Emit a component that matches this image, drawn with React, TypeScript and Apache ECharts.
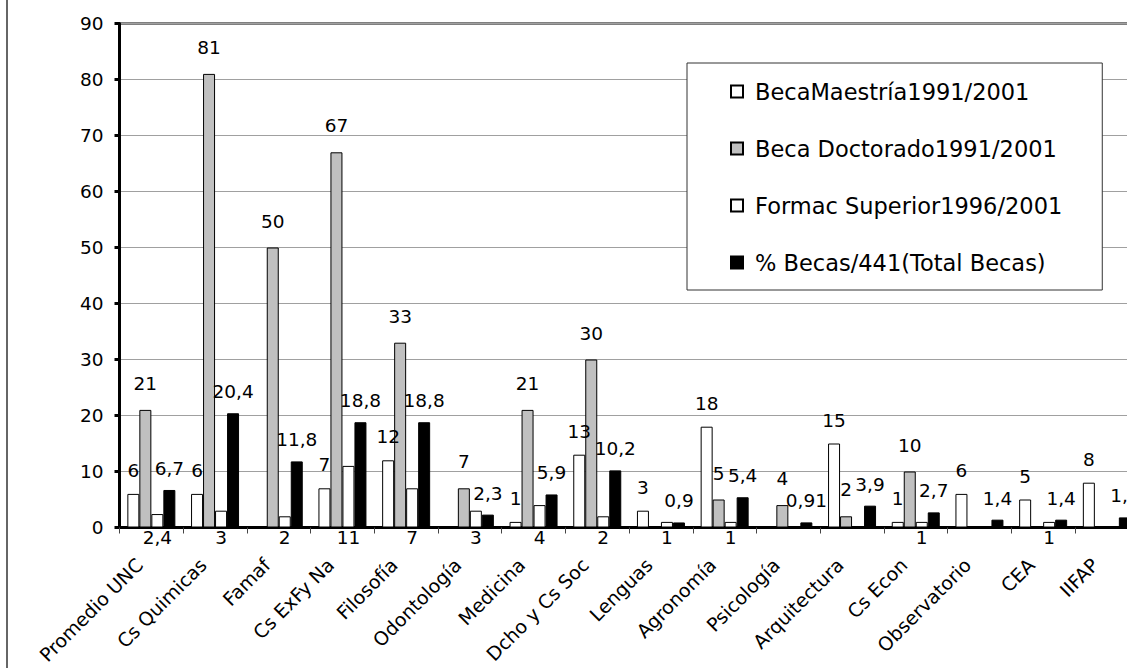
import React, { useEffect, useRef } from "react";
import * as echarts from "echarts";

const categories = [
  "Promedio UNC",
  "Cs Quimicas",
  "Famaf",
  "Cs ExFy Na",
  "Filosofía",
  "Odontología",
  "Medicina",
  "Dcho y Cs Soc",
  "Lenguas",
  "Agronomía",
  "Psicología",
  "Arquitectura",
  "Cs Econ",
  "Observatorio",
  "CEA",
  "IIFAP",
];

const seriesNames = [
  "BecaMaestría1991/2001",
  "Beca Doctorado1991/2001",
  "Formac Superior1996/2001",
  "% Becas/441(Total Becas)",
];

const becaMaestria = [6, 6, null, 7, 12, null, 1, 13, 3, 18, null, 15, 1, 6, 5, 8];
const becaDoctorado = [21, 81, 50, 67, 33, 7, 21, 30, null, 5, 4, 2, 10, null, null, null];
const formacSuperior = [2.4, 3, 2, 11, 7, 3, 4, 2, 1, 1, null, null, 1, null, 1, null];
const pctBecas = [6.7, 20.4, 11.8, 18.8, 18.8, 2.3, 5.9, 10.2, 0.9, 5.4, 0.91, 3.9, 2.7, 1.4, 1.4, 1.8];

const yMin = 0;
const yMax = 90;
const yInterval = 10;

const FONT = "DejaVu Sans";

const fmt = (p: any) => String(p.value).replace(".", ",");

export default function App() {
  const ref = useRef<HTMLDivElement>(null);

  useEffect(() => {
    if (!ref.current) return;
    const chart = echarts.init(ref.current, undefined, { renderer: "svg" });

    const mkSeries = (
      name: string,
      data: (number | null)[],
      fill: string,
      position: string,
      distance: number
    ) => ({
      type: "bar",
      name,
      data,
      barWidth: 12,
      barGap: "0%",
      itemStyle: { color: fill, borderColor: "#000", borderWidth: 1 },
      label: {
        show: true,
        position,
        distance,
        formatter: fmt,
        fontFamily: FONT,
        fontSize: 18.5,
        color: "#000",
      },
    });

    chart.setOption({
      animation: false,
      backgroundColor: "#fff",
      grid: {
        left: 119.5,
        right: 21.3,
        top: 23.5,
        bottom: 140.5,
        show: true,
        borderColor: "#000",
        borderWidth: 2,
        backgroundColor: "transparent",
      },
      legend: {
        orient: "vertical",
        left: 687,
        top: 63,
        itemWidth: 12,
        itemHeight: 12,
        itemGap: 34,
        padding: [17, 40, 16, 43],
        backgroundColor: "#fff",
        borderColor: "#333",
        borderWidth: 1,
        icon: "rect",
        textStyle: {
          fontFamily: FONT,
          fontSize: 22.5,
          lineHeight: 22,
          color: "#000",
          padding: [0, 0, 0, 7],
        },
        data: seriesNames,
      },
      xAxis: {
        type: "category",
        data: categories,
        axisLine: { lineStyle: { color: "#000", width: 3 } },
        axisTick: { show: true, length: 6, lineStyle: { color: "#444", width: 1 } },
        axisLabel: {
          rotate: 45,
          margin: 22,
          interval: 0,
          padding: [0, 17, 0, 0],
          fontFamily: FONT,
          fontSize: 19,
          color: "#000",
        },
      },
      yAxis: {
        type: "value",
        min: yMin,
        max: yMax,
        interval: yInterval,
        axisLine: { show: true, lineStyle: { color: "#000", width: 3 } },
        axisTick: { show: true, length: 5, lineStyle: { color: "#000", width: 3 } },
        axisLabel: { margin: 16, fontFamily: FONT, fontSize: 18.5, color: "#000" },
        splitLine: { show: true, lineStyle: { color: "#a0a0a0", width: 1 } },
      },
      graphic: [
        {
          type: "line",
          shape: { x1: 7, y1: 0, x2: 7, y2: 668 },
          style: { stroke: "#333", lineWidth: 1.5 },
        },
      ],
      series: [
        mkSeries(seriesNames[0], becaMaestria, "#fff", "top", 14),
        mkSeries(seriesNames[1], becaDoctorado, "#c0c0c0", "top", 17),
        mkSeries(seriesNames[2], formacSuperior, "#fff", "bottom", 0),
        mkSeries(seriesNames[3], pctBecas, "#000", "top", 12),
      ],
    });

    return () => chart.dispose();
  }, []);

  return (
    <div
      style={{
        position: "fixed",
        left: 0,
        top: 0,
        width: 1127,
        height: 668,
        overflow: "hidden",
        background: "#fff",
      }}
    >
      <div ref={ref} style={{ width: 1160, height: 668 }} />
    </div>
  );
}
